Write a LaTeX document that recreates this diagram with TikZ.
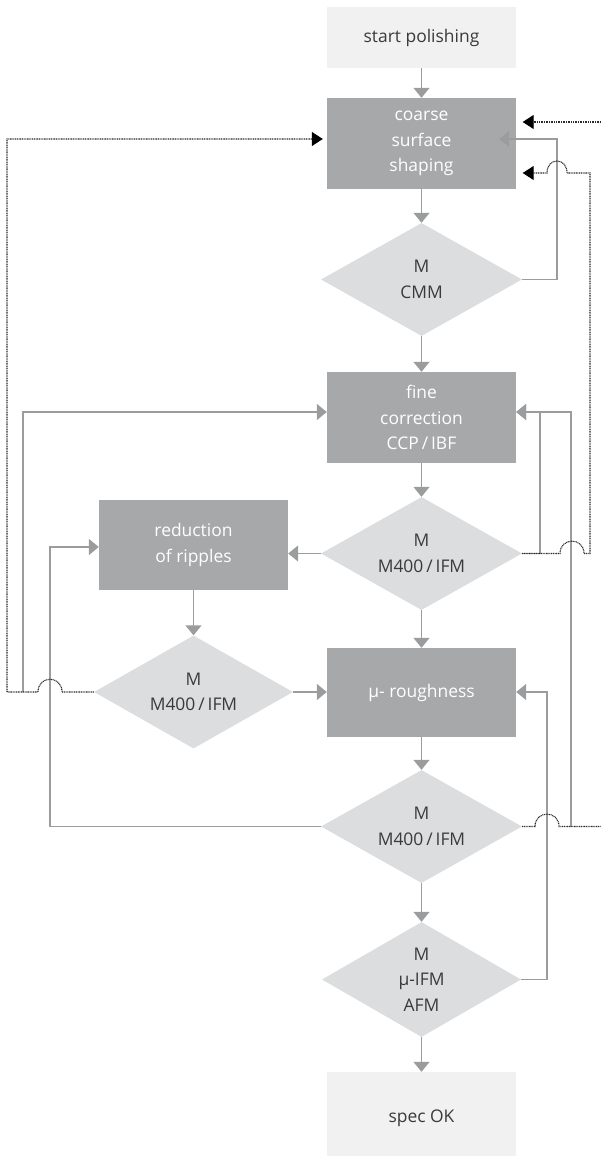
\documentclass[tikz,border=0pt]{standalone}
\usepackage{fontspec}
\setmainfont{Open Sans}
\usetikzlibrary{shapes.geometric,arrows.meta,calc}
\definecolor{boxdark}{HTML}{A7A8AA}
\definecolor{boxlight}{HTML}{F1F1F1}
\definecolor{diam}{HTML}{DCDDDE}
\definecolor{ln}{HTML}{9B9C9E}
\definecolor{txt}{HTML}{3A3A3A}
\definecolor{dotc}{HTML}{2A2A2A}
\begin{document}
\begin{tikzpicture}[x=1bp,y=-1bp,
  every node/.style={font=\fontsize{17.5}{25.5}\selectfont, align=center, inner sep=0pt},
  darkbox/.style={rectangle, fill=boxdark, text=white, minimum width=189bp},
  lightbox/.style={rectangle, fill=boxlight, text=txt, minimum width=189bp},
  check/.style={diamond, fill=diam, text=txt, minimum width=201bp, minimum height=113bp, shape aspect=1.78},
  flow/.style={draw=ln, line width=1.4bp, -{Triangle[length=10bp,width=16bp]}},
  link/.style={draw=ln, line width=1.4bp},
  jump/.style={draw=dotc, line width=1.1bp, dash pattern=on 1bp off 0.7bp},
  jumparrow/.style={jump, -{Triangle[length=11bp,width=14bp,fill=black,color=black]}}
]
\useasboundingbox (0,0) rectangle (601,1156);
% nodes
\node[lightbox, minimum height=61bp] (start) at (421.5,37.5) {start polishing};
\node[darkbox, minimum height=91bp] (coarse) at (421.5,143.5) {coarse\\surface\\shaping};
\node[check] (d1) at (421.5,279.5) {M\\CMM};
\node[darkbox, minimum height=91bp] (fine) at (421.5,417.5) {fine\\correction\\CCP\,/\,IBF};
\node[check] (d2) at (421.5,553.5) {M\\M400\,/\,IFM};
\node[darkbox, minimum height=90bp] (reduc) at (193.5,545) {reduction\\of ripples};
\node[check, minimum width=199bp] (d4) at (193.5,692) {M\\M400\,/\,IFM};
\node[darkbox, minimum height=89bp] (rough) at (421.5,692.5) {µ- roughness};
\node[check] (d5) at (421.5,826.5) {M\\M400\,/\,IFM};
\node[check, minimum width=199bp, minimum height=115bp] (d6) at (421.5,979.5) {M\\µ-IFM\\AFM};
\node[lightbox, minimum height=92bp] (spec) at (421.5,1118) {spec OK};
% junction coordinates
\coordinate (j2) at (540,553.5);
\coordinate (j4) at (23,692);
\coordinate (j5) at (571,826.5);
\coordinate (edgeA) at (601,826.5);
\coordinate (edgeB) at (601,122);
% main flow
\draw[flow] (start) -- (coarse);
\draw[flow] (coarse) -- (d1);
\draw[flow] (d1) -- (fine);
\draw[flow] (fine) -- (d2);
\draw[flow] (d2) -- (rough);
\draw[flow] (rough) -- (d5);
\draw[flow] (d5) -- (d6);
\draw[flow] (d6) -- (spec);
\draw[flow] (reduc) -- (d4);
\draw[flow] (d4.east) -- (rough.west |- d4.east);
\draw[flow] (d2.west) -- (reduc.east |- d2.west);
% loops (gray)
\draw[flow] (d1.east) -| (557,139) -- ($(coarse.east)+(-17,-4.5)$);
\draw[link] (d2.east) -- (j2);
\draw[flow] (j2) |- (fine.east |- 0,412);
\draw[flow] (j5) |- (fine.east |- 0,412);
\draw[flow] (j4) |- (fine.west |- 0,412);
\draw[flow] (d5.west) -| (50,547) -- (reduc.west |- 0,547);
\draw[flow] (d6.east) -| (547,692) -- (rough.east |- 0,692);
% dotted returns
\draw[jumparrow] (d4.west) -- (62,692) .. controls (62,675) and (38,675) .. (38,692) -- (7,692) -- (7,139) -- ($(coarse.west)+(-4,-4.5)$);
\draw[jumparrow] (d2.east) -- (560,553.5) .. controls (560,537) and (584,537) .. (584,553.5) -- (590,553.5) -- (590,173) -- (567,173) .. controls (567,157) and (547,157) .. (547,173) -- ($(coarse.east)+(6.5,29.5)$);
\draw[jump] (d5.east) -- (535,826.5) .. controls (535,810) and (559,810) .. (559,826.5) -- (edgeA);
\draw[jumparrow] (edgeB) -- ($(coarse.east)+(6.5,-21.5)$);
\end{tikzpicture}
\end{document}
